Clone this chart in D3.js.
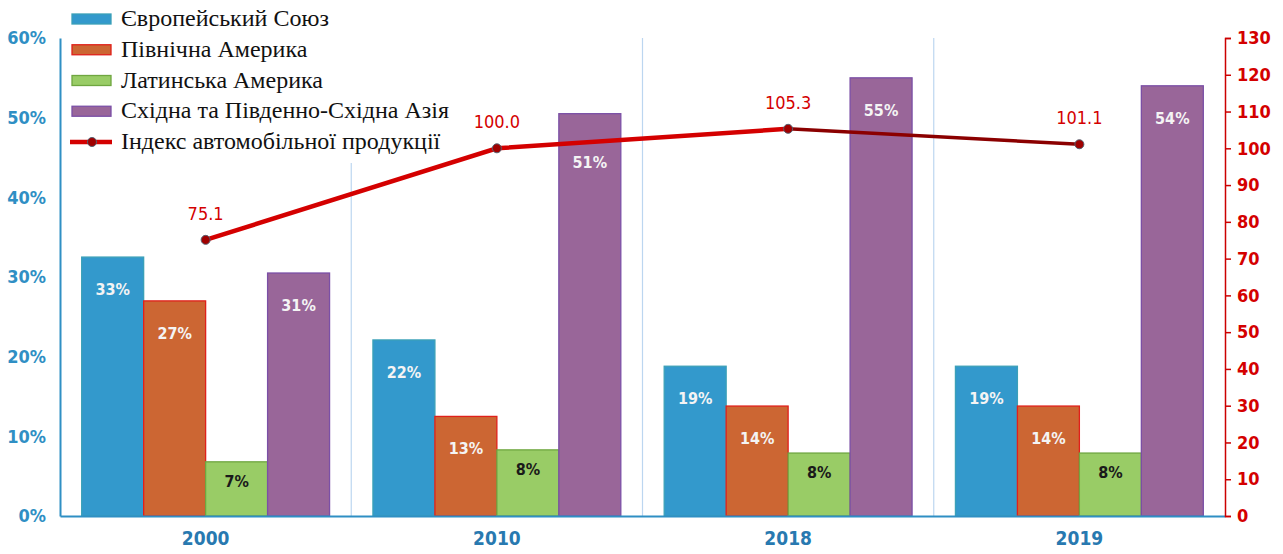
<html>
<head>
<meta charset="utf-8">
<script src="https://d3js.org/d3.v7.min.js"></script>
<style>
  body { margin: 0; background: #fff; }
  svg { display: block; }
  .legend-text { font-family: "Liberation Serif", "Times New Roman", "DejaVu Serif", serif; }
</style>
</head>
<body>
<svg id="chart" width="1283" height="554"></svg>
<script>
// data
const years = ["2000", "2010", "2018", "2019"];
const seriesNames = ["Європейський Союз", "Північна Америка", "Латинська Америка", "Східна та Південно-Східна Азія"];
const euShare    = [32.5, 22.1, 18.8, 18.8];
const naShare    = [27.0, 12.5, 13.8, 13.8];
const laShare    = [6.8, 8.3, 7.9, 7.9];
const asiaShare  = [30.5, 50.5, 55.0, 54.0];
const autoIndex  = [75.1, 100.0, 105.3, 101.1];
const lineName = "Індекс автомобільної продукції";
const leftTicks = [0, 10, 20, 30, 40, 50, 60];
const rightTicks = d3.range(0, 131, 10);

const shares = [euShare, naShare, laShare, asiaShare];
const fills   = ["#3399cc", "#cc6633", "#99cc66", "#996699"];
const strokes = ["#3ba0b8", "#e0201a", "#6fa640", "#7b4fa6"];
const labelColors = ["#f4f4f4", "#f4f4f4", "#1a1a1a", "#f4f4f4"];

const svg = d3.select("#chart");
const margin = {top: 38, right: 58, bottom: 38, left: 60};
const W = +svg.attr("width"), H = +svg.attr("height");
const plotW = W - margin.left - margin.right;
const plotH = H - margin.top - margin.bottom;

const x = d3.scaleBand().domain(years).range([margin.left, margin.left + plotW]).padding(0);
const xs = d3.scaleBand().domain(d3.range(4)).range([0, x.bandwidth()]).paddingInner(0).paddingOuter(0.35);
const yL = d3.scaleLinear().domain([0, 60]).range([margin.top + plotH, margin.top]);
const yR = d3.scaleLinear().domain([0, 130]).range([margin.top + plotH, margin.top]);

const font = "'Liberation Sans Narrow', 'DejaVu Sans Condensed', Arial, sans-serif";

// separators between year groups
svg.append("g").selectAll("line").data(years.slice(1)).join("line")
  .attr("x1", d => x(d)).attr("x2", d => x(d))
  .attr("y1", margin.top).attr("y2", margin.top + plotH)
  .attr("stroke", "#bcd6f0").attr("stroke-width", 1.2);

// legend background hides the first separator
const legend = svg.append("g");
legend.append("rect").attr("x", 64).attr("y", 0).attr("width", 392).attr("height", 163).attr("fill", "#fff");

// bars
const rows = [];
years.forEach((yr, i) => shares.forEach((s, k) => rows.push({yr, k, v: s[i]})));

svg.append("g").selectAll("rect").data(rows).join("rect")
  .attr("x", d => x(d.yr) + xs(d.k))
  .attr("y", d => yL(d.v))
  .attr("width", xs.bandwidth())
  .attr("height", d => yL(0) - yL(d.v))
  .attr("fill", d => fills[d.k])
  .attr("stroke", d => strokes[d.k])
  .attr("stroke-width", 1.3);

// bar labels (green labels sit closer to the top; the 2010 Asia label is pushed below the line)
svg.append("g").selectAll("text").data(rows).join("text")
  .attr("x", d => x(d.yr) + xs(d.k) + xs.bandwidth() / 2)
  .attr("y", d => yL(d.v) + (d.k === 2 ? 25 : (d.k === 3 && d.yr === "2010" ? 54 : 38)))
  .attr("text-anchor", "middle")
  .attr("font-family", font)
  .attr("font-weight", "bold")
  .attr("font-size", 16)
  .attr("fill", d => labelColors[d.k])
  .text(d => Math.round(d.v) + "%");

// left axis
const axL = svg.append("g").attr("transform", `translate(${margin.left},0)`)
  .call(d3.axisLeft(yL).tickValues(leftTicks).tickSize(0).tickPadding(14).tickFormat(d => d + "%"));
axL.select(".domain").attr("stroke", "#2f8fc4").attr("stroke-width", 2);
axL.selectAll("text").attr("font-family", font).attr("font-size", 18).attr("font-weight", "bold").attr("fill", "#2f8fc4");

// bottom axis
const axB = svg.append("g").attr("transform", `translate(0,${margin.top + plotH})`)
  .call(d3.axisBottom(x).tickSize(0).tickPadding(16));
axB.select(".domain").attr("stroke", "#2f8fc4").attr("stroke-width", 2);
axB.selectAll("text").attr("font-family", font).attr("font-size", 19).attr("font-weight", "bold").attr("fill", "#2879b0");

// right axis
const axR = svg.append("g").attr("transform", `translate(${margin.left + plotW},0)`)
  .call(d3.axisRight(yR).tickValues(rightTicks).tickSize(6).tickSizeOuter(6).tickPadding(6));
axR.select(".domain").attr("stroke", "#cc0000").attr("stroke-width", 1.5);
axR.selectAll(".tick line").attr("stroke", "#cc0000").attr("stroke-width", 1.5);
axR.selectAll("text").attr("font-family", font).attr("font-size", 18).attr("font-weight", "bold").attr("fill", "#d40000");

// legend entries
const legY = d3.scalePoint().domain(d3.range(5)).range([19, 142]);
seriesNames.forEach((name, k) => {
  legend.append("rect")
    .attr("x", 72).attr("y", legY(k) - 5).attr("width", 39).attr("height", 10)
    .attr("fill", fills[k]).attr("stroke", strokes[k]).attr("stroke-width", 1.3);
  legend.append("text").attr("class", "legend-text")
    .attr("x", 121).attr("y", legY(k) + 7)
    .attr("font-size", 24).attr("fill", "#111")
    .text(name);
});
legend.append("line")
  .attr("x1", 70).attr("x2", 112).attr("y1", legY(4)).attr("y2", legY(4))
  .attr("stroke", "#d40000").attr("stroke-width", 4.5);
legend.append("circle").attr("cx", 92).attr("cy", legY(4)).attr("r", 4.5)
  .attr("fill", "#a00000").attr("stroke", "#556070");
legend.append("text").attr("class", "legend-text")
  .attr("x", 121).attr("y", legY(4) + 7)
  .attr("font-size", 24).attr("fill", "#111")
  .text(lineName);

// index line (drawn on top of everything)
const pts = years.map((yr, i) => ({yr, v: autoIndex[i]}));
const cx = d => x(d.yr) + x.bandwidth() / 2;
const line = d3.line().x(cx).y(d => yR(d.v));
svg.append("path").datum(pts.slice(0, 3)).attr("d", line)
  .attr("fill", "none").attr("stroke", "#d40000").attr("stroke-width", 4.5);
svg.append("path").datum(pts.slice(2)).attr("d", line)
  .attr("fill", "none").attr("stroke", "#8b0000").attr("stroke-width", 3.5);

svg.append("g").selectAll("circle").data(pts).join("circle")
  .attr("cx", cx).attr("cy", d => yR(d.v)).attr("r", 4.5)
  .attr("fill", "#a00000").attr("stroke", "#556070").attr("stroke-width", 1);

svg.append("g").selectAll("text").data(pts).join("text")
  .attr("x", cx).attr("y", d => yR(d.v) - 20)
  .attr("text-anchor", "middle")
  .attr("font-family", font).attr("font-size", 18)
  .attr("fill", "#d40000")
  .text(d => d.v.toFixed(1));
</script>
</body>
</html>
